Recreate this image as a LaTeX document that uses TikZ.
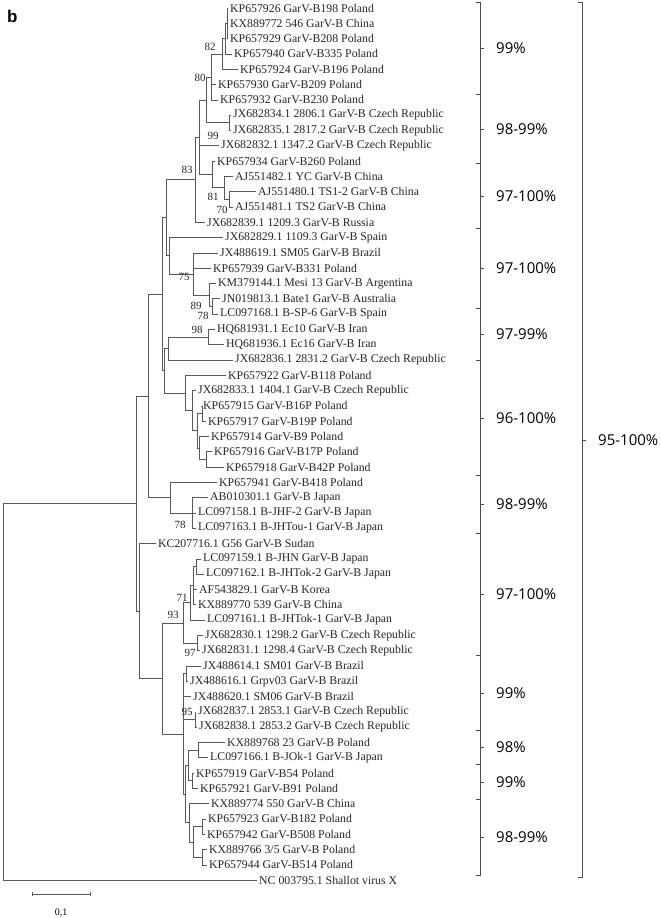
\documentclass[tikz,border=0pt]{standalone}
\usepackage{fontspec}
\setmainfont{Liberation Serif}
\newfontfamily\pctfont{Open Sans}
\newfontfamily\panelfont{Liberation Sans}
\usetikzlibrary{calc}

\tikzset{
  leaf/.style={anchor=west, inner xsep=2pt, inner ysep=0pt, text=black!85,
    font=\fontsize{11.8}{12}\selectfont},
  boot/.style={inner sep=0pt, text=black!85, font=\fontsize{11}{11}\selectfont},
  branch/.style={draw=black!65, line width=0.6pt},
  brace/.style={draw=black!70, line width=0.8pt},
  pct/.style={anchor=west, inner sep=0pt, font=\pctfont\fontsize{15}{15}\selectfont}
}

\begin{document}
\begin{tikzpicture}[x=1pt,y=-15.3pt]
\useasboundingbox[fill=white] (0,0.477) rectangle (661,60.477);

\node[anchor=base west, inner sep=0pt, font=\panelfont\bfseries\fontsize{17}{17}\selectfont] (panel) at (7,1.98) {b};

% taxa
\foreach \i/\xe/\txt in {
  1/228/{KP657926 GarV-B198 Poland},
  2/228/{KX889772 546 GarV-B China},
  3/228/{KP657929 GarV-B208 Poland},
  4/232/{KP657940 GarV-B335 Poland},
  5/238/{KP657924 GarV-B196 Poland},
  6/216/{KP657930 GarV-B209 Poland},
  7/218/{KP657932 GarV-B230 Poland},
  8/231/{JX682834.1 2806.1 GarV-B Czech Republic},
  9/231/{JX682835.1 2817.2 GarV-B Czech Republic},
  10/219/{JX682832.1 1347.2 GarV-B Czech Republic},
  11/215/{KP657934 GarV-B260 Poland},
  12/233/{AJ551482.1 YC GarV-B China},
  13/256/{AJ551480.1 TS1-2 GarV-B China},
  14/233/{AJ551481.1 TS2 GarV-B China},
  15/205/{JX682839.1 1209.3 GarV-B Russia},
  16/223/{JX682829.1 1109.3 GarV-B Spain},
  17/218/{JX488619.1 SM05 GarV-B Brazil},
  18/211/{KP657939 GarV-B331 Poland},
  19/216/{KM379144.1 Mesi 13 GarV-B Argentina},
  20/220/{JN019813.1 Bate1 GarV-B Australia},
  21/218/{LC097168.1 B-SP-6 GarV-B Spain},
  22/215/{HQ681931.1 Ec10 GarV-B Iran},
  23/224/{HQ681936.1 Ec16 GarV-B Iran},
  24/233/{JX682836.1 2831.2 GarV-B Czech Republic},
  25/226/{KP657922 GarV-B118 Poland},
  26/196/{JX682833.1 1404.1 GarV-B Czech Republic},
  27/201/{KP657915 GarV-B16P Poland},
  28/206/{KP657917 GarV-B19P Poland},
  29/209/{KP657914 GarV-B9 Poland},
  30/212/{KP657916 GarV-B17P Poland},
  31/224/{KP657918 GarV-B42P Poland},
  32/217/{KP657941 GarV-B418 Poland},
  33/208/{AB010301.1 GarV-B Japan},
  34/196/{LC097158.1 B-JHF-2 GarV-B Japan},
  35/196/{LC097163.1 B-JHTou-1 GarV-B Japan},
  36/156/{KC207716.1 G56 GarV-B Sudan},
  37/201/{LC097159.1 B-JHN GarV-B Japan},
  38/204/{LC097162.1 B-JHTok-2 GarV-B Japan},
  39/197/{AF543829.1 GarV-B Korea},
  40/196/{KX889770 539 GarV-B China},
  41/205/{LC097161.1 B-JHTok-1 GarV-B Japan},
  42/203/{JX682830.1 1298.2 GarV-B Czech Republic},
  43/200/{JX682831.1 1298.4 GarV-B Czech Republic},
  44/201/{JX488614.1 SM01 GarV-B Brazil},
  45/188/{JX488616.1 Grpv03 GarV-B Brazil},
  46/191/{JX488620.1 SM06 GarV-B Brazil},
  47/196/{JX682837.1 2853.1 GarV-B Czech Republic},
  48/197/{JX682838.1 2853.2 GarV-B Czech Republic},
  49/225/{KX889768 23 GarV-B Poland},
  50/208/{LC097166.1 B-JOk-1 GarV-B Japan},
  51/194/{KP657919 GarV-B54 Poland},
  52/198/{KP657921 GarV-B91 Poland},
  53/209/{KX889774 550 GarV-B China},
  54/206/{KP657923 GarV-B182 Poland},
  55/205/{KP657942 GarV-B508 Poland},
  56/207/{KX889766 3/5 GarV-B Poland},
  57/207/{KP657944 GarV-B514 Poland},
  58/257/{NC 003795.1 Shallot virus X}}
  \node[leaf] (l\i) at (\xe,\i) {\txt};

% inner nodes
\foreach \n/\x/\r in {R/3/45.7, A/136/33.4, B/148/26.35, F/162/19.7, H/166/14.7,
  G83/195/12.22, N6/199/9.44, N4/206/7, N3/211/5.5, N2/222/4, N1/225/3, N1a/227/2,
  N5/229/8.5, N34/212/11.875, N81/224/12.75, N70/229/13.5,
  H2/169/17.19, N75/193/18.375, N89/209/19.75, N78/212/20.5,
  F2/164/24.7, NIr/168/23.25, N98/208/22.5,
  NPo/185/26.16, Ne/192/27.31, Nd/197/28.625, Na/202/27.5, Nc/199/29.75, Nb/206/30.5,
  C/170/33, D/192/34,
  J/139/40.4, I/162/44.8, K93/183/41.19, N71/190/39.875, Sb/193/38.75, Sb2/196/37.5,
  N97/197/42.5, L/183/48.44, M2/186/44.5, N95/195/47.5,
  LP/185/52.375, P3/188/50.5, P1/198/49.5, P2/192/51.5,
  Q4/189/54.25, Q3/193/55.5, Q1/202/54.5, Q2/202/56.5}
  \coordinate (\n) at (\x,\r);

% branches
\foreach \p/\c in {R/A, R/l58, A/B, A/J, B/F, B/C, F/H, F/F2, H/G83, H/H2,
  G83/N6, G83/l15, N6/N4, N6/l10, N6/N34, N4/N3, N4/N5,
  N3/N2, N3/l6, N3/l7, N2/N1, N2/l5, N1/N1a, N1/l4, N1a/l1, N1a/l2, N1a/l3,
  N5/l8, N5/l9, N34/l11, N34/N81, N81/l12, N81/N70, N70/l13, N70/l14,
  H2/l16, H2/N75, N75/l17, N75/l18, N75/N89, N89/l19, N89/N78, N78/l20, N78/l21,
  F2/NIr, F2/NPo, NIr/N98, NIr/l24, N98/l22, N98/l23,
  NPo/l25, NPo/Ne, Ne/l26, Ne/Nd, Nd/Na, Nd/Nc, Na/l27, Na/l28,
  Nc/l29, Nc/Nb, Nb/l30, Nb/l31,
  C/l32, C/D, D/l33, D/l34, D/l35,
  J/l36, J/I, I/K93, I/L, K93/N71, K93/N97, N71/Sb, N71/l41,
  Sb/Sb2, Sb/l39, Sb/l40, Sb2/l37, Sb2/l38, N97/l42, N97/l43,
  L/M2, L/l46, L/N95, L/LP, M2/l44, M2/l45, N95/l47, N95/l48,
  LP/P3, LP/Q4, P3/P1, P3/P2, P1/l49, P1/l50, P2/l51, P2/l52,
  Q4/l53, Q4/Q3, Q3/Q1, Q3/Q2, Q1/l54, Q1/l55, Q2/l56, Q2/l57}
  \draw[branch] (\p) |- (\c);

% bootstrap values
\foreach \n/\x/\r/\v in {b82/210/3.55/82, b80/200/5.58/80, b99/213/9.35/99,
  b83/187/11.6/83, b81/213/13.35/81, b70/222/14.2/70, b75/184/18.58/75,
  b89/196/20.48/89, b78a/203/21.13/78, b98/197/22.05/98, b78b/180/34.79/78,
  b71/182/39.56/71, b93/173/40.67/93, b97/190/43.16/97, b95/187/47.01/95}
  \node[boot] (\n) at (\x,\r) {\v};

% scale bar
\coordinate (sbl) at (32,58.9);
\coordinate (sbr) at (90,58.9);
\draw[branch] (sbl) -- (sbr);
\draw[branch] ([yshift=2pt]sbl) -- ([yshift=-2pt]sbl);
\draw[branch] ([yshift=2pt]sbr) -- ([yshift=-2pt]sbr);
\node[inner sep=0pt, font=\fontsize{10}{10}\selectfont] (sbt) at (61,60.15) {0,1};

% identity groups
\draw[brace] (476,0.61) -- (480,0.61) -- (480,57.67) -- (476,57.67);
\foreach \s in {6.62, 11.13, 15.38, 20.61, 24.01, 31.52, 35.31, 43.29, 48.19, 50.41, 52.70}
  \draw[brace] (476,\s) -- (480,\s);
\foreach \r/\t [count=\k] in {3.61/99\%, 8.91/98-99\%, 13.29/97-100\%, 17.99/97-100\%,
  22.31/97-99\%, 27.80/96-100\%, 33.42/98-99\%, 39.30/97-100\%, 45.77/99\%,
  49.30/98\%, 51.59/99\%, 55.18/98-99\%}
{
  \draw[brace] (480,\r) -- (484,\r);
  \node[pct] (g\k) at (496,\r) {\t};
}
\draw[brace] (578,0.61) -- (582,0.61) -- (582,57.8) -- (578,57.8);
\draw[brace] (582,29.24) -- (586,29.24);
\node[pct] (gall) at (598,29.24) {95-100\%};
\end{tikzpicture}
\end{document}
